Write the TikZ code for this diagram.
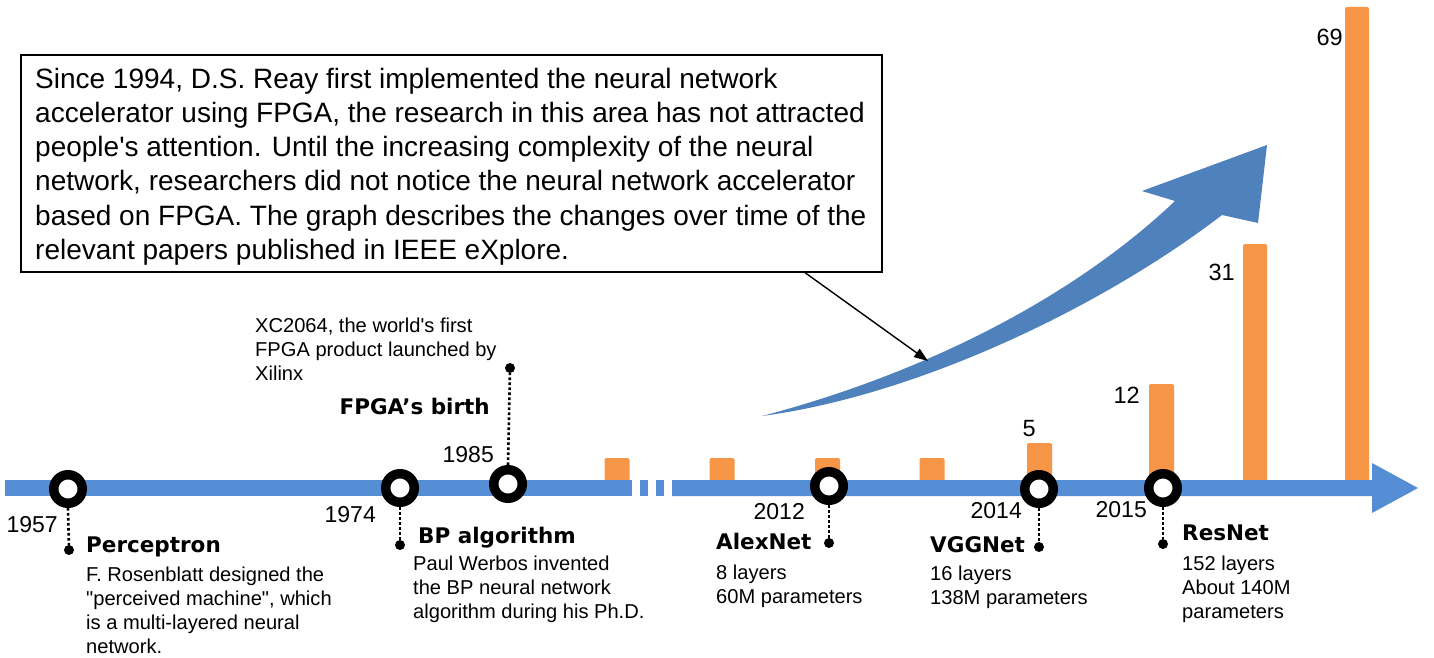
\documentclass[tikz,border=0pt]{standalone}
\usepackage{fontspec}
\newfontfamily\mainf{Liberation Sans}
\newfontfamily\headf{DejaVu Sans}
\usetikzlibrary{arrows.meta}
\definecolor{barorange}{RGB}{247,150,70}
\definecolor{lineblue}{RGB}{85,142,213}
\definecolor{arrowblue}{RGB}{79,129,189}
\tikzset{
  yr/.style={font=\mainf\fontsize{23}{27}\selectfont, inner sep=0pt, anchor=base east},
  hd/.style={font=\headf\bfseries\fontsize{21.5}{26}\selectfont, inner sep=0pt},
  ds/.style={font=\mainf\fontsize{20.1}{24}\selectfont, inner sep=0pt, align=left, anchor=north west},
  val/.style={font=\mainf\fontsize{23.5}{28}\selectfont, inner sep=0pt, anchor=base east},
  ring/.style={circle, draw=black, line width=9.5pt, fill=white, minimum size=28.5pt, inner sep=0pt},
  pin/.style={circle, fill=black, minimum size=10pt, inner sep=0pt},
  stem/.style={line width=2.6pt, dash pattern=on 2.6pt off 2.4pt},
  obar/.style={fill=barorange, rounded corners=2pt},
  callout/.style={line width=1.4pt, -{Triangle[length=14pt,width=10pt]}},
}
\begin{document}
\begin{tikzpicture}[x=1pt,y=-1pt]
\fill[white] (0,0) rectangle (1434,658);
\useasboundingbox (0,0) rectangle (1434,658);

% orange bars
\fill[obar] (604.5,458) rectangle (629.5,482);
\fill[obar] (709.5,458) rectangle (734.5,482);
\fill[obar] (815,458) rectangle (840,482);
\fill[obar] (919.5,458) rectangle (944.5,482);
\fill[obar] (1027,443) rectangle (1052,482);
\fill[obar] (1149,384) rectangle (1174,482);
\fill[obar] (1243,244) rectangle (1267,482);
\fill[obar] (1345,7) rectangle (1369,482);

% timeline bar
\fill[lineblue] (5,480) rectangle (631.5,496);
\fill[lineblue] (640,480) rectangle (648,496);
\fill[lineblue] (656,480) rectangle (664,496);
\fill[lineblue] (672,480) -- (1372,480) -- (1372,463) -- (1418,488) -- (1372,513) -- (1372,496) -- (672,496) -- cycle;

% big curved arrow
\fill[arrowblue] (762,416) .. controls (900,380) and (1060,310) .. (1175,201)
  -- (1142,191) -- (1267,145) -- (1258,223) -- (1222,215)
  .. controls (1105,305) and (920,395) .. (762,416) -- cycle;

% text box and callout
\node[draw, line width=1.6pt, minimum width=861pt, minimum height=217pt, inner sep=0pt] (box) at (451.5,163.5) {};
\node[font=\mainf\fontsize{28}{34.2}\selectfont, inner sep=0pt, align=left, anchor=north west] (boxtext) at (35,64.1)
 {\strut Since 1994, D.S. Reay first implemented the neural network\\
  accelerator using FPGA, the research in this area has not attracted\\
  people's attention. Until the increasing complexity of the neural\\
  network, researchers did not notice the neural network accelerator\\
  based on FPGA. The graph describes the changes over time of the\\
  relevant papers published in IEEE eXplore.};
\coordinate (ctip) at (928,361);
\draw[callout] ([xshift=785pt]box.south west) -- (ctip);

% rings
\node[ring] (r57) at (68,489) {};
\node[ring] (r74) at (400,488) {};
\node[ring] (r85) at (508,484) {};
\node[ring] (r12) at (829,486) {};
\node[ring] (r14) at (1039,489) {};
\node[ring] (r15) at (1163,488) {};

% pins
\node[pin] (d57) at (69,550) {};
\node[pin] (d74) at (400,545) {};
\node[pin] (d85) at (510,368) {};
\node[pin] (d12) at (829,543) {};
\node[pin] (d14) at (1039,547) {};
\node[pin] (d15) at (1163,544) {};

\draw[stem] (r57.south) -- (d57);
\draw[stem] (r74.south) -- (d74);
\draw[stem] (r85.north) -- (d85);
\draw[stem] (r12.south) -- (d12);
\draw[stem] (r14.south) -- (d14);
\draw[stem] (r15.south) -- (d15);

% years
\node[yr] (y57) at (58,532) {1957};
\node[yr] (y74) at (376,522) {1974};
\node[yr] (y85) at (494,462) {1985};
\node[yr] (y12) at (805,519) {2012};
\node[yr] (y14) at (1022,518) {2014};
\node[yr] (y15) at (1147,517) {2015};

% values
\node[val] (v5) at (1036,436) {5};
\node[val] (v12) at (1140,403) {12};
\node[val] (v31) at (1235,280) {31};
\node[val] (v69) at (1343,46) {69};

% headings
\node[hd, anchor=base west] (h57) at (86,552) {Perceptron};
\node[hd, anchor=base west] (h74) at (418,543) {BP algorithm};
\node[hd, anchor=base east] (h85) at (490,414) {FPGA’s birth};
\node[hd, anchor=base west] (h12) at (716,549) {AlexNet};
\node[hd, anchor=base west] (h14) at (930,552) {VGGNet};
\node[hd, anchor=base west] (h15) at (1182,540) {ResNet};

% descriptions
\node[ds] (t57) at (86,564.2) {\strut F. Rosenblatt designed the\\ "perceived machine", which\\ is a multi-layered neural\\ network.};
\node[ds] (t74) at (413,553.2) {\strut Paul Werbos invented\\ the BP neural network\\ algorithm during his Ph.D.};
\node[ds] (t85) at (255,315.2) {\strut XC2064, the world's first\\ FPGA product launched by\\ Xilinx};
\node[ds] (t12) at (716,562.2) {\strut 8 layers\\ 60M parameters};
\node[ds] (t14) at (930,563.2) {\strut 16 layers\\ 138M parameters};
\node[ds] (t15) at (1182,553.2) {\strut 152 layers\\ About 140M\\ parameters};
\end{tikzpicture}
\end{document}
